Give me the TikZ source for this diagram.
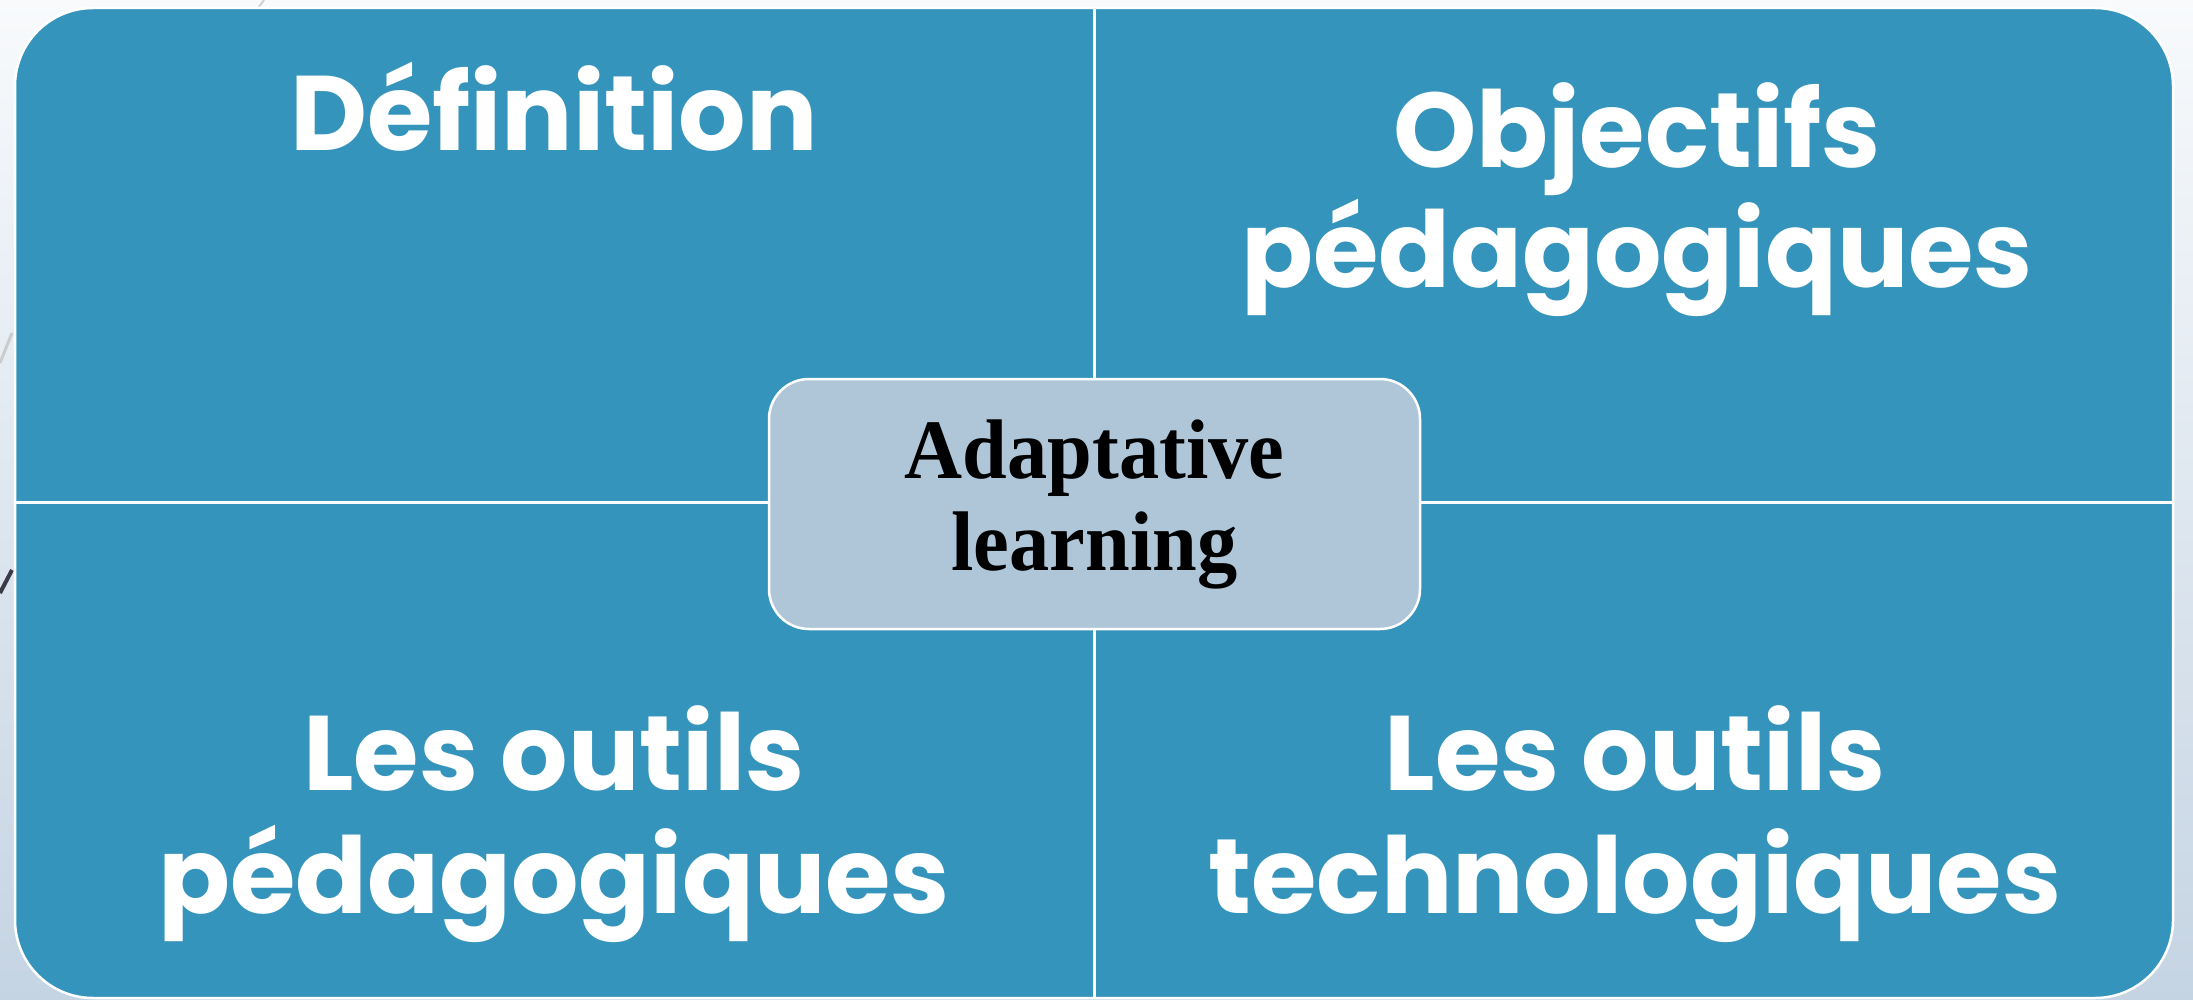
\documentclass[tikz,border=0pt]{standalone}
\usepackage{fontspec}
\newfontfamily\quadfont{Poppins}
\newfontfamily\centerfont{Liberation Serif}[FakeStretch=0.95]
\definecolor{bgtop}{HTML}{F8FAFC}
\definecolor{bgbot}{HTML}{C5D4E3}
\definecolor{quadblue}{HTML}{3594BB}
\definecolor{centerfill}{HTML}{AFC6D9}
\definecolor{darkdeco}{HTML}{3A3A48}
\tikzset{
  quadtxt/.style={font=\quadfont\bfseries\fontsize{53}{60}\selectfont, text=white, anchor=base, inner sep=0pt},
  divider/.style={draw=white, line width=1.5pt},
  centerbox/.style={draw=white, line width=1.25pt, fill=centerfill, rounded corners=20pt,
    minimum width=325.5pt, minimum height=125pt, align=center, inner sep=0pt,
    font=\centerfont\bfseries\fontsize{42.3}{46}\selectfont, text=black},
}
\begin{document}
\begin{tikzpicture}[x=0.5pt,y=-0.5pt]
\useasboundingbox (0,0) rectangle (2193,1000);
\shade[top color=bgtop, bottom color=bgbot] (0,0) rectangle (2193,1000);
% faint background decorations
\draw[line width=1pt, gray!35] (258,8) -- (264,0);
\draw[line width=1.5pt, gray!40] (0,363) -- (12,333);
\draw[line width=2pt, darkdeco] (0,593) -- (12,570);
% matrix
\coordinate (vtop) at (1094,8);
\coordinate (vbot) at (1094,998);
\coordinate (hleft) at (15,502);
\coordinate (hright) at (2173,502);
\draw[white, line width=1.25pt, fill=quadblue, rounded corners=39pt] (15,8) rectangle (2173,998);
\draw[divider] (vtop) -- (vbot);
\draw[divider] (hleft) -- (hright);
% center
\node[centerbox] (center) at (1094.5,504) {Adaptative\\learning};
% quadrant texts
\node[quadtxt] (def) at (554,151) {Définition};
\node[quadtxt] (obj1) at (1637,168) {Objectifs};
\node[quadtxt] (obj2) at (1637,287) {pédagogiques};
\node[quadtxt] (outp1) at (554,790) {Les outils};
\node[quadtxt] (outp2) at (554,913) {pédagogiques};
\node[quadtxt] (outt1) at (1635,790) {Les outils};
\node[quadtxt] (outt2) at (1635,913) {technologiques};
\end{tikzpicture}
\end{document}
